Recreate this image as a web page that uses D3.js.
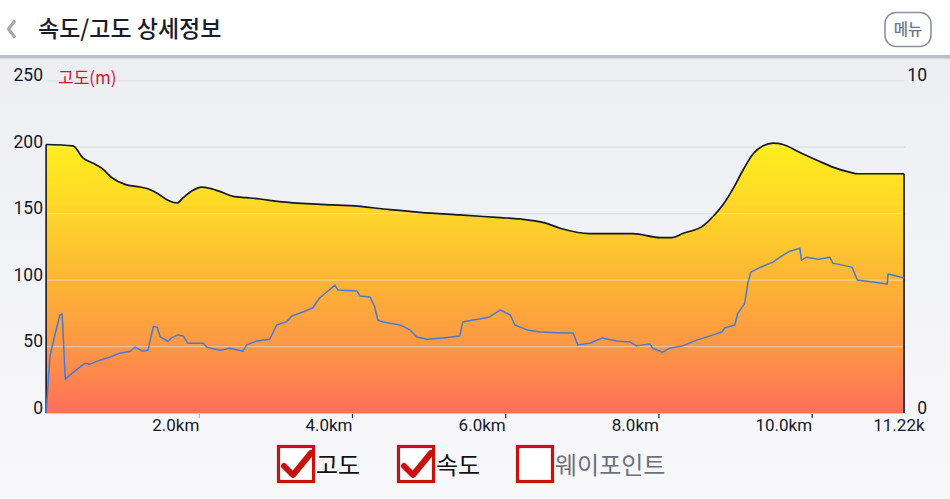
<!DOCTYPE html>
<html><head><meta charset="utf-8">
<script src="https://cdn.jsdelivr.net/npm/d3@7/dist/d3.min.js"></script>
<style>
html,body{margin:0;padding:0;background:#fff;overflow:hidden;}
svg{display:block;font-family:Roboto,"Noto Sans CJK KR",sans-serif;}
</style></head>
<body>
<svg id="chart" width="950" height="499"></svg>
<script>
// ---- data ----
const title = "속도/고도 상세정보";
const menuLabel = "메뉴";
const elevLabel = "고도(m)";
const totalDistance = 11.22;
const xTickValues = [2, 4, 6, 8, 10];
const xTickLabels = ["2.0km", "4.0km", "6.0km", "8.0km", "10.0km"];
const endLabel = "11.22k";
const yTickValues = [0, 50, 100, 150, 200, 250];
const y2TickValues = [0, 10];
const legendLabels = ["고도", "속도", "웨이포인트"];
const legendChecked = [true, true, false];

const elevDist = [0.00,0.35,0.48,0.61,0.73,0.86,1.03,1.23,1.36,1.46,1.59,1.71,1.79,1.90,2.03,2.14,2.30,2.44,2.62,2.79,3.05,3.58,3.97,4.49,4.88,5.40,5.93,6.19,6.51,6.71,7.10,7.66,8.02,8.17,8.31,8.58,8.71,8.84,8.97,9.10,9.23,9.36,9.49,9.62,9.84,10.07,10.27,10.50,10.59,10.89,11.20];
const elevValues = [202,201,192,188,184,177,172,170,168,165,160,158,162,167,170,169,166,163,162,161,159,157,156,153,151,149,147,146,143,139,135,135,132,132,135,141,148,157,169,183,195,201,203,202,196,190,185,181,180,180,180];

const speedDist = [0.00,0.05,0.12,0.18,0.21,0.25,0.31,0.44,0.51,0.57,0.70,0.83,0.96,1.10,1.16,1.26,1.33,1.36,1.40,1.45,1.49,1.59,1.64,1.72,1.79,1.85,2.05,2.10,2.27,2.40,2.57,2.62,2.75,2.92,3.01,3.14,3.21,3.35,3.48,3.57,3.68,3.77,3.81,4.06,4.10,4.23,4.29,4.33,4.40,4.49,4.62,4.75,4.84,4.97,5.18,5.40,5.44,5.57,5.66,5.79,5.93,6.06,6.12,6.28,6.45,6.75,6.88,6.94,7.10,7.26,7.45,7.62,7.71,7.88,7.92,8.05,8.14,8.31,8.50,8.63,8.82,8.86,8.99,9.03,9.12,9.16,9.20,9.32,9.49,9.58,9.71,9.84,9.86,9.93,10.08,10.23,10.27,10.52,10.59,10.79,10.98,10.99,11.15,11.20];
const speedValues = [0,1.7,2.4,2.95,2.98,1.02,1.14,1.38,1.5,1.47,1.59,1.68,1.8,1.86,1.98,1.86,1.89,2.2,2.6,2.58,2.29,2.16,2.26,2.35,2.32,2.1,2.1,1.98,1.89,1.95,1.86,2.05,2.17,2.22,2.65,2.75,2.92,3.04,3.16,3.46,3.67,3.85,3.7,3.67,3.52,3.49,3.19,2.8,2.74,2.7,2.65,2.5,2.29,2.22,2.26,2.32,2.74,2.8,2.83,2.89,3.1,2.95,2.65,2.5,2.44,2.41,2.41,2.05,2.1,2.26,2.17,2.14,2.02,2.08,1.95,1.83,1.95,2.02,2.2,2.29,2.44,2.56,2.65,3.0,3.3,3.9,4.24,4.38,4.54,4.69,4.87,4.96,4.6,4.69,4.63,4.69,4.51,4.39,4.0,3.94,3.88,4.18,4.09,4.06];

// ---- layout ----
const svg = d3.select("#chart");
const W = 950, H = 499;
const plot = {left: 46.1, right: 905.6, top: 80.7, bottom: 413};

const defs = svg.append("defs");
const bgGrad = defs.append("linearGradient").attr("id","bg").attr("x1",0).attr("y1",0).attr("x2",0).attr("y2",1);
bgGrad.append("stop").attr("offset",0).attr("stop-color","#ebedf1");
bgGrad.append("stop").attr("offset",1).attr("stop-color","#f8f8fa");

const x = d3.scaleLinear().domain([0,totalDistance]).range([plot.left, plot.right]);
const y = d3.scaleLinear().domain([0,250]).range([plot.bottom, plot.top]);
const y2 = d3.scaleLinear().domain([0,10]).range([plot.bottom, plot.top]);

const areaGrad = defs.append("linearGradient").attr("id","area").attr("gradientUnits","userSpaceOnUse")
  .attr("x1",0).attr("x2",0).attr("y1",y(205)).attr("y2",y(0));
[[0,"#ffef1e"],[0.3,"#fdd22a"],[0.55,"#fdb038"],[0.78,"#fd9446"],[1,"#ff6f5a"]].forEach(s=>
  areaGrad.append("stop").attr("offset",s[0]).attr("stop-color",s[1]));

// backgrounds
svg.append("rect").attr("x",0).attr("y",0).attr("width",W).attr("height",H).attr("fill","url(#bg)");
svg.append("rect").attr("x",0).attr("y",0).attr("width",W).attr("height",55).attr("fill","#ffffff");
svg.append("rect").attr("x",0).attr("y",55).attr("width",W).attr("height",3.5).attr("fill","#bbbfc9");

// header
svg.append("path").attr("d","M15,20.5 L8.5,29 L15,37.5").attr("fill","none").attr("stroke","#a3a7b2")
  .attr("stroke-width",3).attr("stroke-linejoin","round");
svg.append("text").attr("x",38).attr("y",37).attr("font-size",23).attr("font-weight",500)
  .attr("font-family","'Noto Sans CJK KR',sans-serif").attr("fill","#1a1b2b").text(title);
svg.append("rect").attr("x",885).attr("y",12.5).attr("width",46).attr("height",34).attr("rx",11)
  .attr("fill","#fff").attr("stroke","#8d92a0").attr("stroke-width",1.6);
svg.append("text").attr("x",908).attr("y",35).attr("text-anchor","middle").attr("font-size",15.5)
  .attr("font-weight",500)
  .attr("font-family","'Noto Sans CJK KR',sans-serif").attr("fill","#707586").text(menuLabel);

// background grid
const gridG = svg.append("g");
gridG.selectAll("line").data(yTickValues.filter(v=>v>0)).join("line")
  .attr("x1",plot.left).attr("x2",plot.right).attr("y1",d=>y(d)).attr("y2",d=>y(d))
  .attr("stroke","#d6d8de").attr("stroke-width",1.2);

// elevation area
const elevData = elevDist.map((d,i)=>({d, v: elevValues[i]}));
const area = d3.area().x(p=>x(p.d)).y0(y(0)).y1(p=>y(p.v)).curve(d3.curveMonotoneX);
svg.append("path").datum(elevData).attr("d",area).attr("fill","url(#area)");

// grid over area
const gridTop = svg.append("g");
gridTop.selectAll("line").data(yTickValues.filter(v=>v>0)).join("line")
  .attr("x1",plot.left).attr("x2",plot.right).attr("y1",d=>y(d)).attr("y2",d=>y(d))
  .attr("stroke","#f0f0f0").attr("stroke-opacity",0.45).attr("stroke-width",1.2);

// elevation outline (incl. vertical edges)
const line = d3.line().x(p=>x(p.d)).y(p=>y(p.v)).curve(d3.curveMonotoneX);
svg.append("path").datum(elevData).attr("d",line).attr("fill","none").attr("stroke","#15172a").attr("stroke-width",1.7);
svg.append("line").attr("x1",x(elevDist[0])).attr("x2",x(elevDist[0])).attr("y1",y(0)).attr("y2",y(elevValues[0]))
  .attr("stroke","#15172a").attr("stroke-width",1.6);
const lastI = elevDist.length-1;
svg.append("line").attr("x1",x(elevDist[lastI])).attr("x2",x(elevDist[lastI])).attr("y1",y(0)).attr("y2",y(elevValues[lastI]))
  .attr("stroke","#15172a").attr("stroke-width",1.6);

// speed line
const speedData = speedDist.map((d,i)=>({d, v: speedValues[i]}));
svg.append("path").datum(speedData)
  .attr("d", d3.line().x(p=>x(p.d)).y(p=>y2(p.v)))
  .attr("fill","none").attr("stroke","#4a78d2").attr("stroke-width",1.5).attr("stroke-linejoin","round");

// x axis
svg.append("line").attr("x1",plot.left).attr("x2",plot.right).attr("y1",plot.bottom+0.5).attr("y2",plot.bottom+0.5)
  .attr("stroke","#c9cbd3").attr("stroke-width",1.2);
const xAxisG = svg.append("g");
xAxisG.selectAll("line").data(xTickValues).join("line")
  .attr("x1",d=>x(d)).attr("x2",d=>x(d)).attr("y1",plot.bottom+1).attr("y2",plot.bottom+5)
  .attr("stroke",(d,i)=>i===0?"#b0b3bc":"#1a1b2b").attr("stroke-width",1.2);
xAxisG.selectAll("text").data(xTickValues).join("text")
  .attr("x",d=>x(d)).attr("y",431).attr("text-anchor","end").attr("font-size",17).attr("fill","#15172a")
  .text((d,i)=>xTickLabels[i]);
svg.append("text").attr("x",x(totalDistance)+19).attr("y",431).attr("text-anchor","end").attr("font-size",17)
  .attr("fill","#15172a").text(endLabel);

// y axes
svg.append("g").selectAll("text").data(yTickValues).join("text")
  .attr("x",43).attr("y",d=>y(d)+0.5).attr("text-anchor","end").attr("font-size",17.5).attr("fill","#15172a").text(d=>d);
svg.append("g").selectAll("text").data(y2TickValues).join("text")
  .attr("x",927).attr("y",d=>y2(d)+0.5).attr("text-anchor","end").attr("font-size",17.5).attr("fill","#15172a").text(d=>d);

svg.append("text").attr("x",58).attr("y",84).attr("font-size",17).attr("fill","#d3153c")
  .attr("font-family","'Noto Sans CJK KR',Roboto,sans-serif").text(elevLabel);

// legend
const legendX = [277, 397, 516];
const lg = svg.append("g");
legendLabels.forEach((lab,i)=>{
  const bx = legendX[i], by = 445;
  lg.append("rect").attr("x",bx+1.5).attr("y",by+1.5).attr("width",35).attr("height",35)
    .attr("fill","#ffffff").attr("stroke","#c8120f").attr("stroke-width",3.2);
  if (legendChecked[i]) {
    lg.append("path").attr("d",`M${bx+7},${by+21} L${bx+16},${by+30} L${bx+34},${by+8}`)
      .attr("fill","none").attr("stroke","#c8120f").attr("stroke-width",6).attr("stroke-linecap","round").attr("stroke-linejoin","round");
  }
  lg.append("text").attr("x",bx+39).attr("y",by+29).attr("font-size",24)
    .attr("font-family","'Noto Sans CJK KR',sans-serif")
    .attr("fill",legendChecked[i]?"#111":"#6b7081").text(lab);
});
</script>
</body></html>
